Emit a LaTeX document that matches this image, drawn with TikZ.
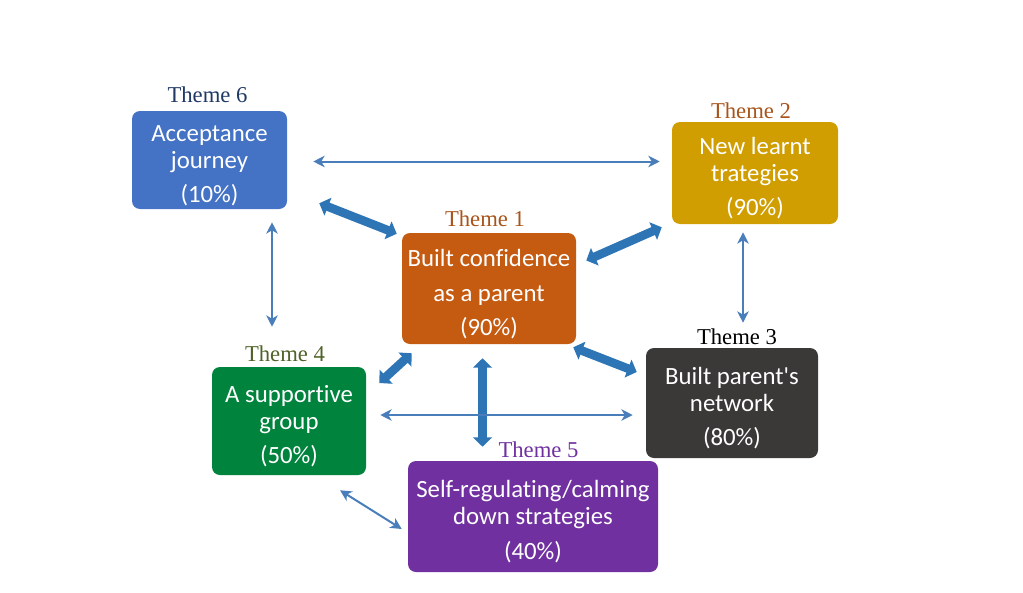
\documentclass[tikz,border=0pt]{standalone}
\usepackage{fontspec}
\setmainfont{Liberation Serif}
\newfontfamily\boxfont[Ligatures={NoCommon}]{Carlito}
\usetikzlibrary{arrows.meta, calc, positioning}

\definecolor{acceptblue}{HTML}{4472C4}
\definecolor{confidenceorange}{HTML}{C55A11}
\definecolor{learntgold}{HTML}{D09E00}
\definecolor{networkgrey}{HTML}{3B3838}
\definecolor{groupgreen}{HTML}{00833C}
\definecolor{calmpurple}{HTML}{7030A0}
\definecolor{linkblue}{HTML}{4A7EBB}
\definecolor{bigblue}{HTML}{2E75B6}
\definecolor{navylabel}{HTML}{1F3864}
\definecolor{brownlabel}{HTML}{A8541A}
\definecolor{olivelabel}{HTML}{4F6228}

% lowers the text block inside a box
\newcommand{\boxstrut}{\rule{0pt}{21pt}}

\begin{document}
\begin{tikzpicture}[x=0.75pt, y=-0.75pt,
    themebox/.style={rectangle, rounded corners=6pt, fill=#1, text=white, align=center,
        inner sep=0pt, font=\boxfont\fontsize{18.6}{20.25}\selectfont},
    themelabel/.style={anchor=base, inner sep=0pt, text=#1, font=\fontsize{17}{20}\selectfont},
    link/.style={draw=linkblue, line width=1.5pt,
        {Stealth[length=8.5pt, width=8.5pt, inset=2.5pt]}-{Stealth[length=8.5pt, width=8.5pt, inset=2.5pt]}},
    bigarrow/.style={draw=bigblue, line width=6.5pt,
        {Triangle[length=7pt, width=14pt]}-{Triangle[length=7pt, width=14pt]}}]
    \useasboundingbox (0,0) rectangle (1023,592);

    % the six themes
    \node[themebox=acceptblue, minimum width=116.25pt, minimum height=73.5pt] (b6) at (209.5,160)
        {\boxstrut Acceptance\\journey\\[5pt](10\%)};
    \node[themebox=confidenceorange, minimum width=130.5pt, minimum height=83.25pt] (b1) at (489,288.5)
        {\boxstrut Built confidence\\[6pt]as a parent\\[5pt](90\%)};
    \node[themebox=learntgold, minimum width=124.5pt, minimum height=76.5pt] (b2) at (755,173)
        {\boxstrut New learnt\\trategies\\[5pt](90\%)};
    \node[themebox=networkgrey, minimum width=129pt, minimum height=82.5pt] (b3) at (732,403)
        {\boxstrut Built parent's\\network\\[5pt](80\%)};
    \node[themebox=groupgreen, minimum width=115.5pt, minimum height=81pt] (b4) at (289,421)
        {\boxstrut A supportive\\group\\[5pt](50\%)};
    \node[themebox=calmpurple, minimum width=187.5pt, minimum height=83.25pt] (b5) at (533,516.5)
        {\boxstrut Self-regulating/calming\\down strategies\\[6pt](40\%)};

    \node[themelabel=navylabel] (t6) at ($(b6.north)+(-2,-8)$) {Theme 6};
    \node[themelabel=brownlabel] (t1) at ($(b1.north)+(-4,-6)$) {Theme 1};
    \node[themelabel=brownlabel] (t2) at ($(b2.north)+(-4,-3)$) {Theme 2};
    \node[themelabel=black] (t3) at ($(b3.north)+(5,-3)$) {Theme 3};
    \node[themelabel=olivelabel] (t4) at ($(b4.north)+(-4,-5)$) {Theme 4};
    \node[themelabel=calmpurple] (t5) at ($(b5.north)+(5.5,-3)$) {Theme 5};

    % thick links to theme 1
    \draw[bigarrow] ($(b6.south east)+(32,-6)$) -- ($(b1.north west)+(-5,1)$);
    \draw[bigarrow] ($(b1.east)+(10,-28)$) -- ($(b2.south west)+(-10,3)$);
    \draw[bigarrow] ($(b1.south east)+(-3,3)$) -- ($(b3.west)+(-9,-31)$);
    \draw[bigarrow] ($(b1.south west)+(10,9)$) -- ($(b4.east)+(13,-38)$);
    \draw[bigarrow] ($(b1.south)+(-6.5,14)$) -- ($(b5.north)+(-50.5,-14)$);

    % thin links between the others
    \draw[link] ($(b6.east)+(26,1.5)$) -- ($(b2.west)+(-12,-11.5)$);
    \draw[link] ($(b6.south)+(62.5,13)$) -- ($(b4.north)+(-17,-40)$);
    \draw[link] ($(b2.south)+(-12,8)$) -- ($(b3.north)+(11,-25)$);
    \draw[link] ($(b4.east)+(14,-6)$) -- ($(b3.west)+(-13,12)$);
    \draw[link] ($(b4.south)+(51,15)$) -- ($(b5.west)+(-6,12.5)$);
\end{tikzpicture}
\end{document}
